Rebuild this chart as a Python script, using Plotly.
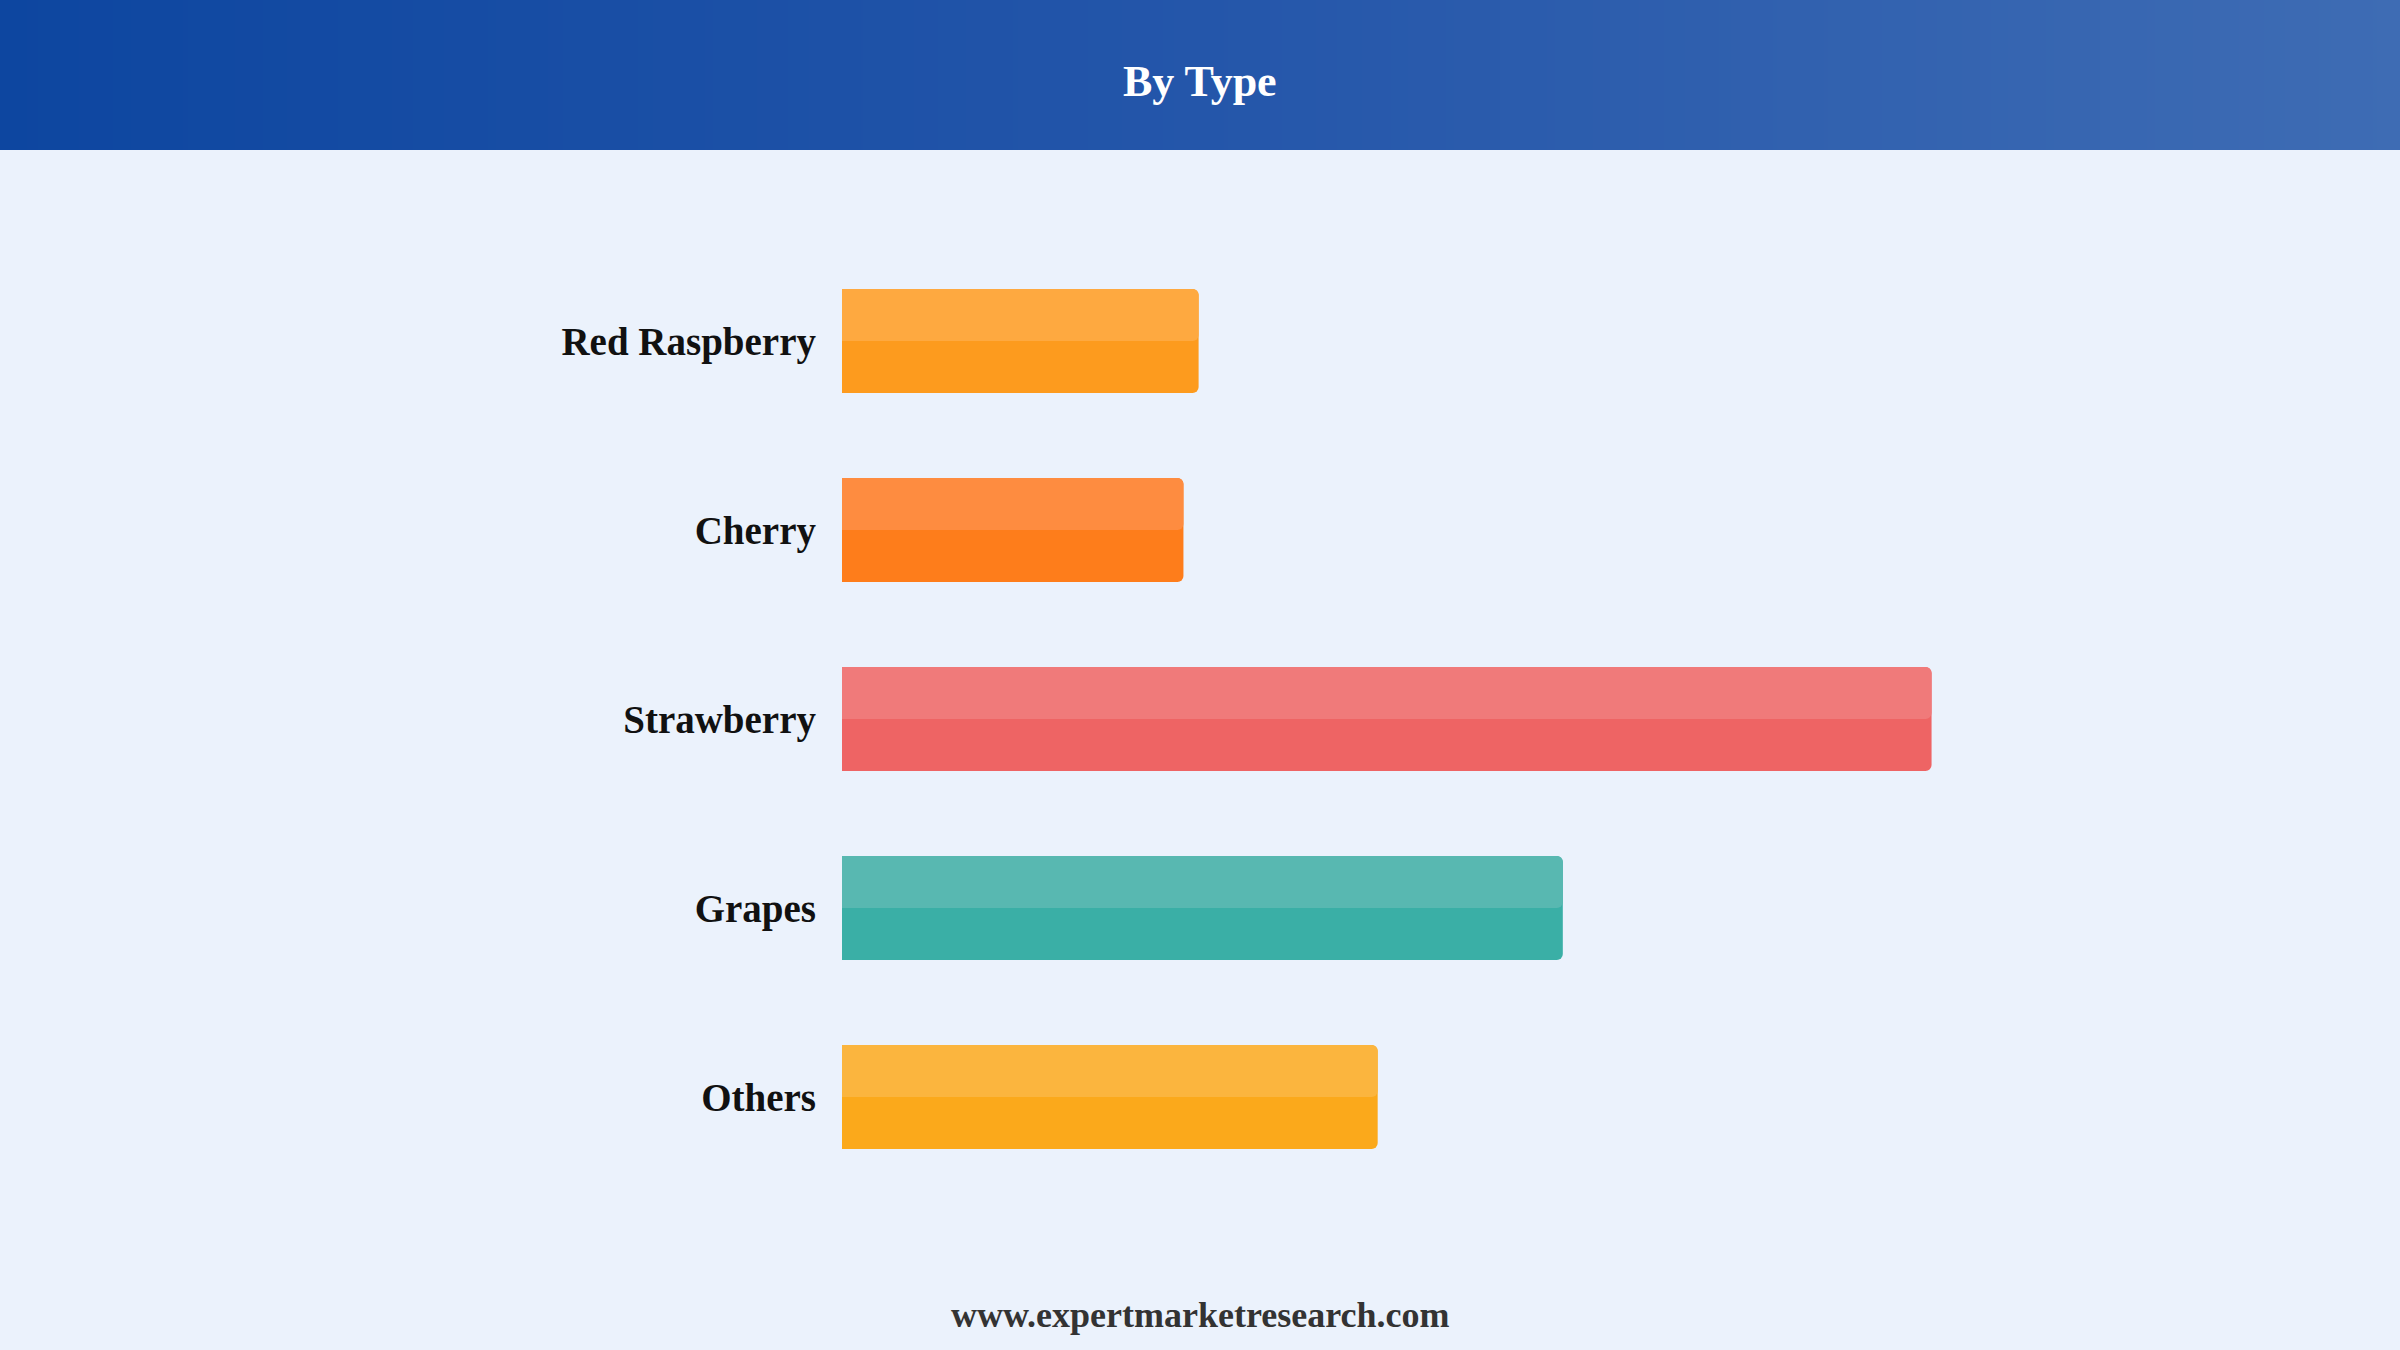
import plotly.graph_objects as go

# ---- data ----
categories = ["Red Raspberry", "Cherry", "Strawberry", "Grapes", "Others"]
values = [11.75, 11.25, 35.9, 23.75, 17.65]
base_colors = ["#FD9B1E", "#FE7D1B", "#EE6464", "#3AAFA6", "#FBA91B"]
light_colors = ["#FEA940", "#FE8C40", "#F07A7A", "#58B8B1", "#FBB53E"]
title_text = "By Type"
footer_text = "www.expertmarketresearch.com"

W, H = 2400, 1350
BG = "#EBF2FC"
SERIF = "Liberation Serif, Times New Roman, serif"

fig = go.Figure()

# header gradient band
fig.add_trace(go.Heatmap(
    z=[[0, 1]], x=[0, 1], y=[0],
    colorscale=[[0, "#0D46A0"], [0.5, "#2456AA"], [1, "#3E6CB4"]],
    zsmooth="best", showscale=False, hoverinfo="skip",
    xaxis="x2", yaxis="y2",
))

bw = 0.55
# main bars (darker)
fig.add_trace(go.Bar(
    y=categories, x=values, orientation="h",
    width=bw, offset=-bw / 2,
    marker=dict(color=base_colors, line=dict(width=0), cornerradius=6),
    hoverinfo="skip", showlegend=False,
))
# lighter top halves
fig.add_trace(go.Bar(
    y=categories, x=values, orientation="h",
    width=bw / 2, offset=-bw / 2,
    marker=dict(color=light_colors, line=dict(width=0), cornerradius=6),
    hoverinfo="skip", showlegend=False,
))

fig.update_layout(
    width=W, height=H,
    margin=dict(l=0, r=0, t=0, b=0),
    paper_bgcolor=BG, plot_bgcolor=BG,
    barmode="overlay",
    showlegend=False,
    xaxis=dict(domain=[842 / W, 2056 / W], range=[0, 40], visible=False, fixedrange=True),
    yaxis=dict(
        domain=[(H - 1191.5) / H, (H - 246.5) / H],
        type="category", range=[4.5, -0.5],
        showgrid=False, zeroline=False, showline=False,
        ticks="", ticklabelstandoff=25,
        tickfont=dict(family=SERIF, size=39, color="#111111", weight="bold"),
        fixedrange=True,
    ),
    xaxis2=dict(domain=[0, 1], range=[0, 1], visible=False, anchor="y2", fixedrange=True),
    yaxis2=dict(domain=[(H - 150) / H, 1], range=[-0.5, 0.5], visible=False, anchor="x2", fixedrange=True),
    annotations=[
        dict(text=f"<b>{title_text}</b>", x=0.5, y=1 - 81 / H, xref="paper", yref="paper",
             xanchor="center", yanchor="middle", showarrow=False,
             font=dict(family=SERIF, size=44, color="white")),
        dict(text=f"<b>{footer_text}</b>", x=0.5, y=1 - 1315 / H, xref="paper", yref="paper",
             xanchor="center", yanchor="middle", showarrow=False,
             font=dict(family=SERIF, size=36, color="#333333")),
    ],
)

fig.write_html(
    "out.html",
    config={"displayModeBar": False},
    post_script="document.body.style.margin='0';document.body.style.overflow='hidden';",
)
